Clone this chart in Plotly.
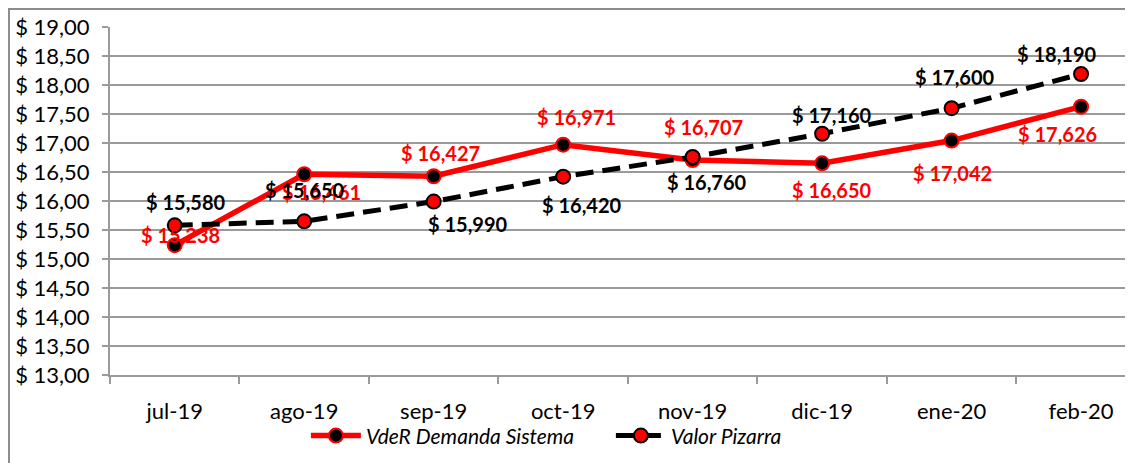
import plotly.graph_objects as go

# ---- data ----
months = ["jul-19", "ago-19", "sep-19", "oct-19", "nov-19", "dic-19", "ene-20", "feb-20"]
vder = [15.238, 16.461, 16.427, 16.971, 16.707, 16.650, 17.042, 17.626]
pizarra = [15.580, 15.650, 15.990, 16.420, 16.760, 17.160, 17.600, 18.190]
y_ticks = [13.0, 13.5, 14.0, 14.5, 15.0, 15.5, 16.0, 16.5, 17.0, 17.5, 18.0, 18.5, 19.0]
y_ticktext = ["$ 13,00", "$ 13,50", "$ 14,00", "$ 14,50", "$ 15,00", "$ 15,50", "$ 16,00",
              "$ 16,50", "$ 17,00", "$ 17,50", "$ 18,00", "$ 18,50", "$ 19,00"]

# ---- label offsets (pixels: dx right, dy down) ----
vder_off = [(6, -10), (17, 18), (7, -23), (13, -28), (11, -33), (10, 27), (1, 32), (-24, 27)]
piz_off = [(11, -23), (1, -31), (34, 22), (19, 28), (14, 25), (10, -19), (3, -31), (-24, -20)]

RED = "#FF0000"
GRID = "#9A9A9A"
FONT = "Lato"

def money(v):
    return "$ " + f"{v:.3f}".replace(".", ",")

fig = go.Figure()
fig.add_trace(go.Scatter(
    x=months, y=vder, mode="lines+markers",
    name="<i>VdeR Demanda Sistema</i>",
    line=dict(color=RED, width=5.5),
    marker=dict(color="black", size=14, line=dict(color=RED, width=2)),
))
fig.add_trace(go.Scatter(
    x=months, y=pizarra, mode="lines+markers",
    name="<i>Valor Pizarra</i>",
    line=dict(color="black", width=5, dash="18px,9px"),
    marker=dict(color=RED, size=14, line=dict(color="black", width=2)),
))

annotations = []
for m, v, (dx, dy) in zip(months, vder, vder_off):
    annotations.append(dict(x=m, y=v, xref="x", yref="y", text="<b>" + money(v) + "</b>",
                            showarrow=False, xshift=dx, yshift=-dy,
                            font=dict(family=FONT, size=20, color=RED)))
for m, v, (dx, dy) in zip(months, pizarra, piz_off):
    annotations.append(dict(x=m, y=v, xref="x", yref="y", text="<b>" + money(v) + "</b>",
                            showarrow=False, xshift=dx, yshift=-dy,
                            font=dict(family=FONT, size=20, color="black")))

fig.update_layout(
    width=1133, height=463,
    margin=dict(l=102, r=0, t=19, b=96),
    paper_bgcolor="white", plot_bgcolor="white",
    font=dict(family=FONT, size=22, color="black"),
    showlegend=True,
    legend=dict(orientation="h", x=0.190, y=-0.175, xanchor="left", yanchor="middle",
                font=dict(family=FONT, size=21, color="black"),
                bgcolor="rgba(0,0,0,0)", itemwidth=50,
                entrywidth=240, entrywidthmode="pixels"),
    annotations=annotations,
    shapes=[dict(type="rect", xref="paper", yref="paper",
                 x0=-0.098, x1=1.1, y0=-0.5, y1=1.0517,
                 line=dict(color="#8C8C8C", width=2), fillcolor="rgba(0,0,0,0)", layer="below")],
)
fig.update_xaxes(
    type="category", range=[-0.5, 7.463],
    showgrid=False, showline=True, linecolor=GRID, linewidth=2,
    ticks="outside", tickson="boundaries", ticklen=7, tickcolor=GRID, tickwidth=2,
    ticklabelstandoff=16,
    tickfont=dict(family=FONT, size=22, color="black"),
)
fig.update_yaxes(
    range=[13, 19], tickvals=y_ticks, ticktext=y_ticktext,
    showgrid=True, gridcolor=GRID, gridwidth=1.5,
    showline=True, linecolor=GRID, linewidth=2,
    ticks="outside", ticklen=6, tickcolor=GRID, tickwidth=2,
    ticklabelstandoff=8, zeroline=False,
    tickfont=dict(family=FONT, size=22, color="black"),
)

fig.write_html("out.html")
